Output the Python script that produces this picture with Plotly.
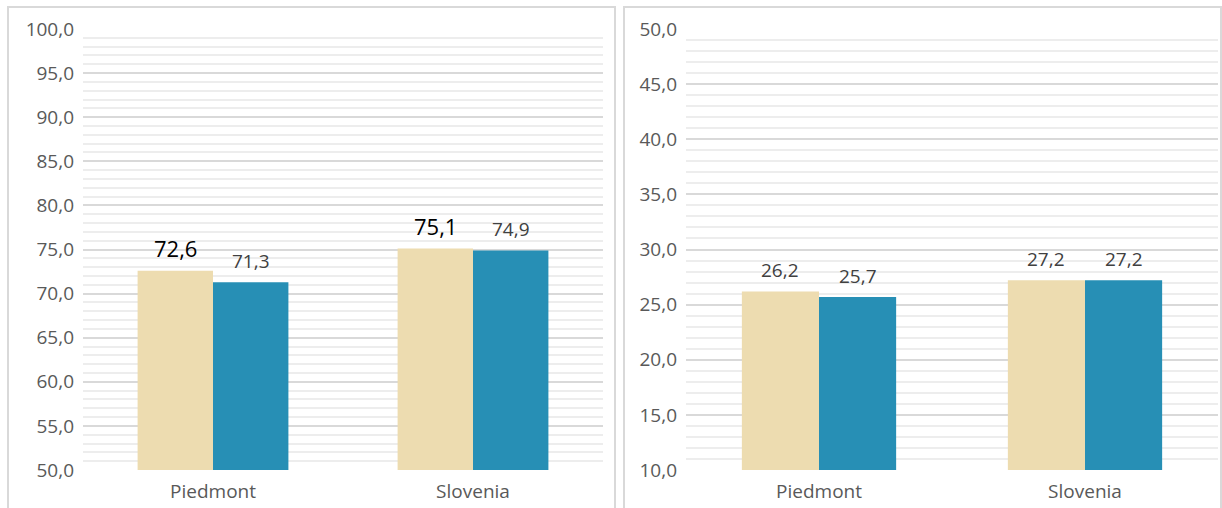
import plotly.graph_objects as go
from plotly.subplots import make_subplots

# Data
categories = ["Piedmont", "Slovenia"]
left_series_a = [72.6, 75.1]
left_series_b = [71.3, 74.9]
right_series_a = [26.2, 27.2]
right_series_b = [25.7, 27.2]

W, H = 1222, 508
BEIGE = "#EDDCB0"
BLUE = "#278FB5"
TICK_GRAY = "#595959"
LABEL_GRAY = "#404040"
FONT = "Open Sans"
BARGAP = 0.42

LEFT_DOM = (83, 603)
RIGHT_DOM = (686, 1218)
TOP_PX, BOTTOM_PX = 29, 470


def px_x(v):
    return v / W


def px_y(v):
    return (H - v) / H


fig = make_subplots(rows=1, cols=2)

panels = [
    (1, LEFT_DOM, [left_series_a, left_series_b],
     [dict(size=22, color="#000000"), dict(size=19, color=LABEL_GRAY)]),
    (2, RIGHT_DOM, [right_series_a, right_series_b],
     [dict(size=19, color=LABEL_GRAY), dict(size=19, color=LABEL_GRAY)]),
]

for col, dom, series, fonts in panels:
    cat_w = (dom[1] - dom[0]) / len(categories)
    bar_w = cat_w * (1 - BARGAP) / len(series)
    for i, (vals, color) in enumerate(zip(series, [BEIGE, BLUE])):
        fig.add_trace(go.Bar(x=categories, y=vals, marker_color=color,
                             marker_line_width=0), row=1, col=col)
        shift = (i - (len(series) - 1) / 2) * bar_w
        ax = "x" if col == 1 else "x2"
        ay = "y" if col == 1 else "y2"
        for cat, v in zip(categories, vals):
            fig.add_annotation(
                x=cat, y=v, xref=ax, yref=ay, text=f"{v:.1f}".replace(".", ","),
                showarrow=False, xanchor="center", yanchor="bottom",
                xshift=shift, yshift=6,
                font=dict(family=FONT, **fonts[i]),
            )

y_dom = [px_y(BOTTOM_PX), px_y(TOP_PX)]
common_y = dict(
    dtick=5, tickformat=".1f", showgrid=True, gridcolor="#D9D9D9", gridwidth=2,
    minor=dict(dtick=1, showgrid=True, gridcolor="#EDEDED", gridwidth=1.5),
    zeroline=False, showline=False, ticks="", ticklabelstandoff=8,
    automargin=False,
    tickfont=dict(family=FONT, size=19, color=TICK_GRAY), domain=y_dom,
)
common_x = dict(
    showgrid=False, zeroline=False, showline=False, ticks="", automargin=False,
    ticklabelstandoff=8,
    tickfont=dict(family=FONT, size=19, color=TICK_GRAY),
)
fig.update_yaxes(range=[50, 100], **common_y, row=1, col=1)
fig.update_yaxes(range=[10, 50], **common_y, row=1, col=2)
fig.update_xaxes(domain=[px_x(LEFT_DOM[0]), px_x(LEFT_DOM[1])], **common_x, row=1, col=1)
fig.update_xaxes(domain=[px_x(RIGHT_DOM[0]), px_x(RIGHT_DOM[1])], **common_x, row=1, col=2)

# Panel frames
for x0, x1 in [(8, 615), (624, 1221)]:
    fig.add_shape(type="rect", xref="paper", yref="paper",
                  x0=px_x(x0), x1=px_x(x1), y0=-0.2, y1=px_y(7),
                  line=dict(color="#D9D9D9", width=2), layer="below")

fig.update_layout(
    width=W, height=H, autosize=False,
    margin=dict(l=0, r=0, t=0, b=0, pad=0),
    paper_bgcolor="white", plot_bgcolor="white",
    barmode="group", bargap=BARGAP, bargroupgap=0,
    showlegend=False, separators=",.",
    font=dict(family=FONT, color=TICK_GRAY),
)

fig.write_html("out.html")
